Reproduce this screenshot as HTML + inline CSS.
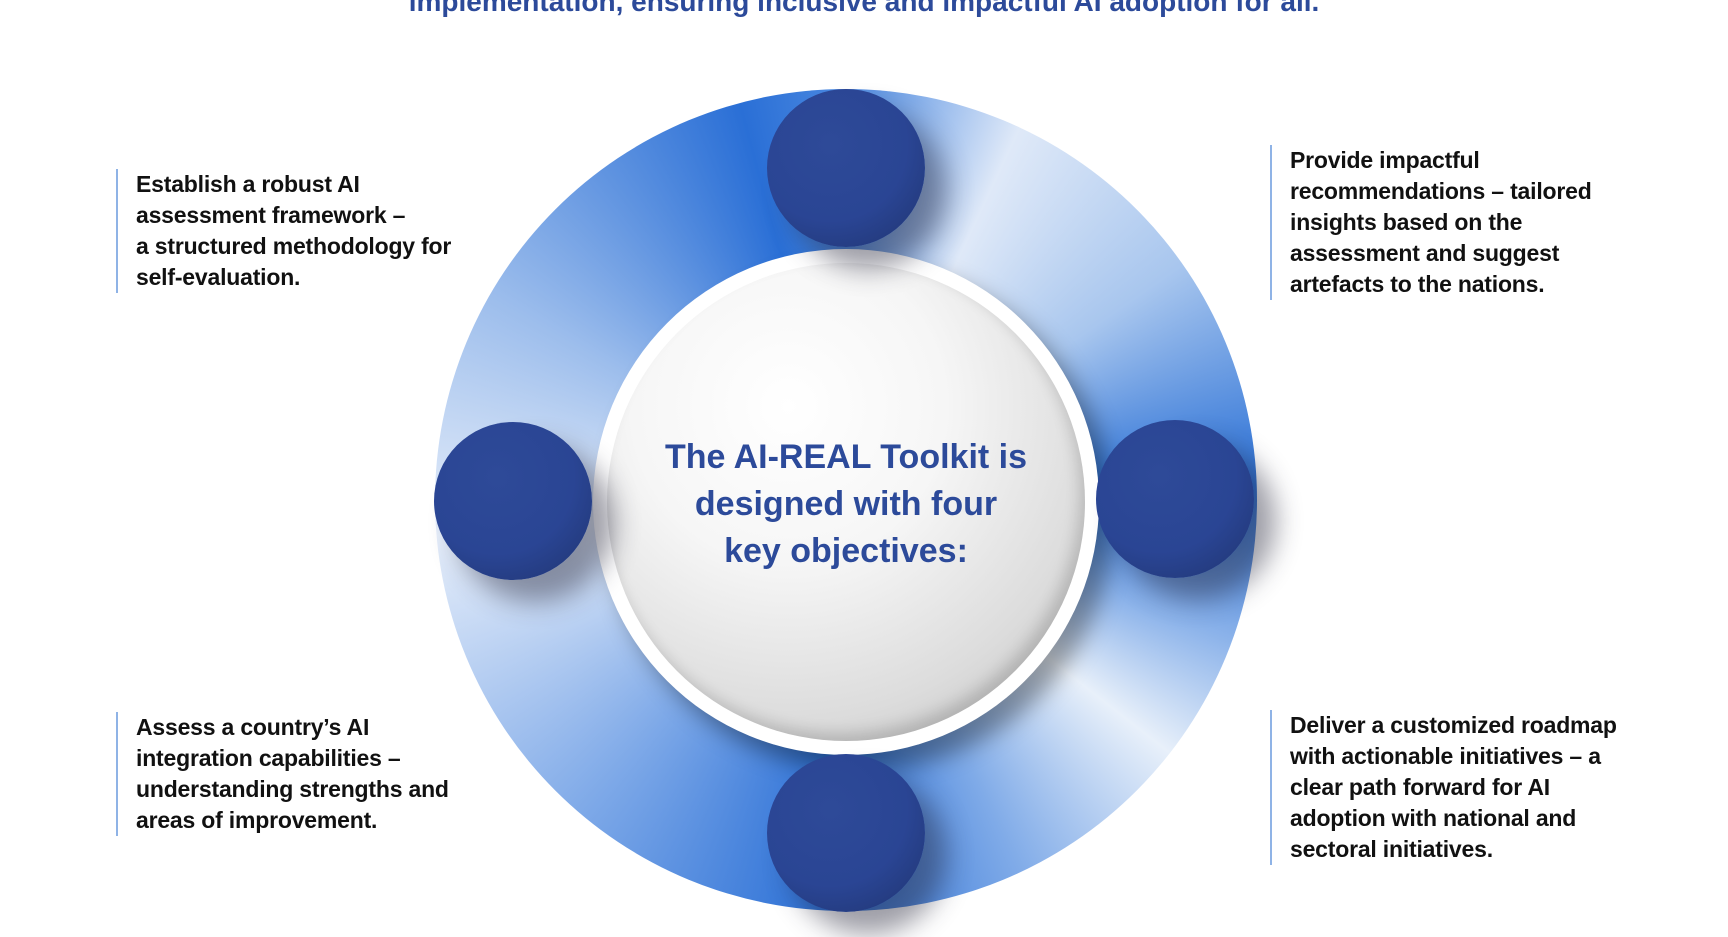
<!DOCTYPE html>
<html><head><meta charset="utf-8"><style>
html,body{margin:0;padding:0;width:1728px;height:937px;overflow:hidden;background:#fff;font-family:"Liberation Sans",sans-serif;}
.abs{position:absolute;}
.t{position:absolute;font-weight:bold;font-size:23px;line-height:31px;color:#111;border-left:2px solid #8fb3e6;padding-left:18px;white-space:nowrap;letter-spacing:-0.2px;}
.dot{position:absolute;width:158px;height:158px;border-radius:50%;background:radial-gradient(circle at 40% 35%,#2e4a98 0%,#2a4594 55%,#1f336e 100%);box-shadow:22px 22px 26px rgba(40,40,60,0.45);}
</style></head><body>
<div class="abs" style="left:0;width:1728px;top:-14px;text-align:center;font-weight:bold;font-size:28px;color:#2c4a9a;">implementation, ensuring inclusive and impactful AI adoption for all.</div>

<div class="abs" style="left:435px;top:89px;width:822px;height:822px;border-radius:50%;background:conic-gradient(from 0deg,#4a88e0 0deg,#dfe9f8 25deg,#a8c6ee 55deg,#2a70d6 88deg,#8cb3ea 110deg,#e8f0fa 128deg,#80abe8 155deg,#2a6fd6 182deg,#7ea9e8 220deg,#e6eefa 265deg,#9cbdec 300deg,#2a6fd6 345deg,#4a88e0 360deg);"></div>

<div class="abs" style="left:593px;top:249px;width:506px;height:506px;border-radius:50%;background:#fff;box-shadow:14px 16px 22px rgba(0,0,0,0.35);"></div>
<div class="abs" style="left:607px;top:263px;width:478px;height:478px;border-radius:50%;background:radial-gradient(circle at 38% 30%,#ffffff 0%,#f6f6f6 35%,#dcdcdc 70%,#b8b8b8 100%);box-shadow:inset -6px -8px 14px rgba(0,0,0,0.15);"></div>

<div class="dot" style="left:767px;top:89px;"></div>
<div class="dot" style="left:434px;top:422px;"></div>
<div class="dot" style="left:1096px;top:420px;"></div>
<div class="dot" style="left:767px;top:754px;"></div>

<div class="abs" style="left:546px;width:600px;top:434px;text-align:center;font-weight:bold;font-size:34px;line-height:47px;color:#2c4a9a;">The AI-REAL Toolkit is<br>designed with four<br>key objectives:</div>

<div class="t" style="left:116px;top:169px;">Establish a robust AI<br>assessment framework –<br>a structured methodology for<br>self-evaluation.</div>
<div class="t" style="left:1270px;top:145px;">Provide impactful<br>recommendations – tailored<br>insights based on the<br>assessment and suggest<br>artefacts to the nations.</div>
<div class="t" style="left:116px;top:712px;">Assess a country’s AI<br>integration capabilities –<br>understanding strengths and<br>areas of improvement.</div>
<div class="t" style="left:1270px;top:710px;">Deliver a customized roadmap<br>with actionable initiatives – a<br>clear path forward for AI<br>adoption with national and<br>sectoral initiatives.</div>
</body></html>
